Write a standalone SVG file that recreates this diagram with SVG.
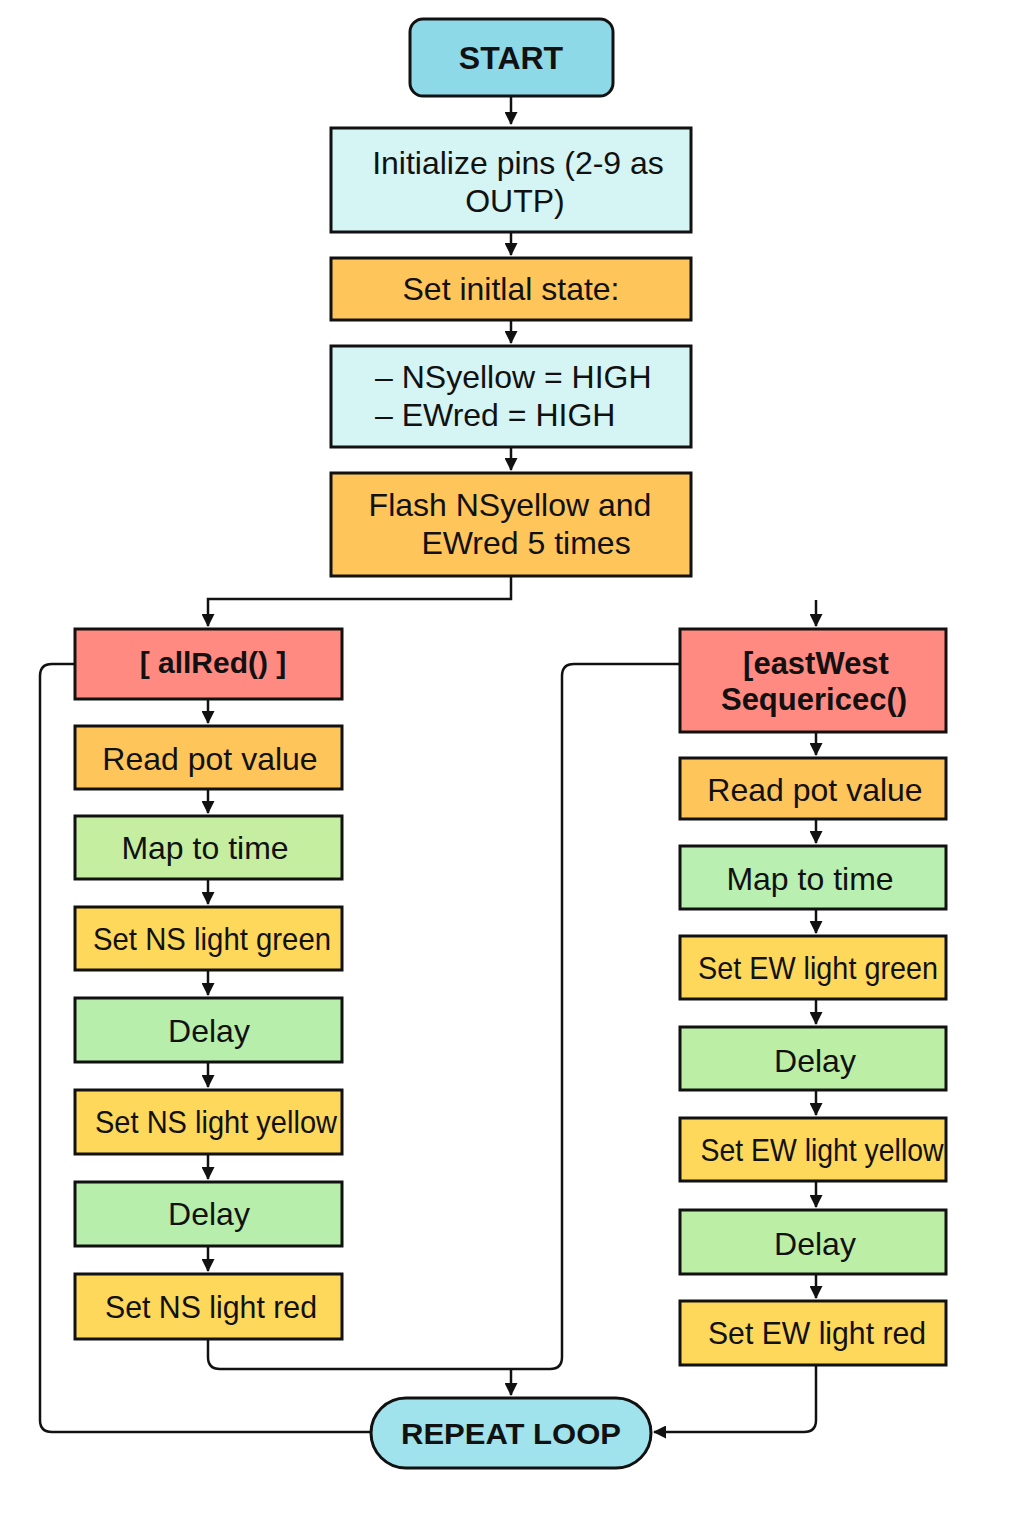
<svg xmlns="http://www.w3.org/2000/svg" width="1024" height="1536" viewBox="0 0 1024 1536">
<defs>
<marker id="ah" markerWidth="13" markerHeight="13" refX="12" refY="6.5" orient="auto" markerUnits="userSpaceOnUse">
<path d="M0,0 L13,6.5 L0,13 Z" fill="#111"/>
</marker>
<style>
.box{stroke:#111;stroke-width:3}
.t{font-family:"Liberation Sans",Arial,sans-serif;font-size:32px;fill:#111;text-anchor:middle}
.b{font-weight:bold}
.c{fill:none;stroke:#111;stroke-width:2.5}
.cyan{fill:#8ED9E8}
.lc{fill:#D5F4F4}
.or{fill:#FDC55A}
.ye{fill:#FDD85A}
.re{fill:#FF8A82}
.gr{fill:#BFEEA4}
</style>
</defs>
<rect width="1024" height="1536" fill="#fff"/>

<g id="connectors">
<path class="c" d="M511,96 V124" marker-end="url(#ah)"/>
<path class="c" d="M511,232 V255" marker-end="url(#ah)"/>
<path class="c" d="M511,320 V343" marker-end="url(#ah)"/>
<path class="c" d="M511,447 V470" marker-end="url(#ah)"/>
<path class="c" d="M511,576 V599 H208 V626" marker-end="url(#ah)"/>
<path class="c" d="M816,600 V626" marker-end="url(#ah)"/>
<path class="c" d="M208,699 V723" marker-end="url(#ah)"/>
<path class="c" d="M208,789 V813" marker-end="url(#ah)"/>
<path class="c" d="M208,879 V904" marker-end="url(#ah)"/>
<path class="c" d="M208,970 V995" marker-end="url(#ah)"/>
<path class="c" d="M208,1062 V1087" marker-end="url(#ah)"/>
<path class="c" d="M208,1154 V1179" marker-end="url(#ah)"/>
<path class="c" d="M208,1246 V1271" marker-end="url(#ah)"/>
<path class="c" d="M816,732 V755" marker-end="url(#ah)"/>
<path class="c" d="M816,819 V843" marker-end="url(#ah)"/>
<path class="c" d="M816,909 V933" marker-end="url(#ah)"/>
<path class="c" d="M816,999 V1024" marker-end="url(#ah)"/>
<path class="c" d="M816,1090 V1115" marker-end="url(#ah)"/>
<path class="c" d="M816,1181 V1207" marker-end="url(#ah)"/>
<path class="c" d="M816,1274 V1298" marker-end="url(#ah)"/>
<path class="c" d="M75,664 H52 Q40,664 40,676 V1420 Q40,1432 52,1432 H371"/>
<path class="c" d="M208,1339 V1357 Q208,1369 220,1369 H550 Q562,1369 562,1357 V676 Q562,664 574,664 H680"/>
<path class="c" d="M511,1369 V1395" marker-end="url(#ah)"/>
<path class="c" d="M816,1365 V1420 Q816,1432 804,1432 H654" marker-end="url(#ah)"/>
</g>

<g id="start">
<rect class="box cyan" x="410" y="19" width="203" height="77" rx="13"/>
<text class="t b" x="511" y="69">START</text>
</g>
<g id="init">
<rect class="box lc" x="331" y="128" width="360" height="104"/>
<text class="t" x="518" y="174">Initialize pins (2-9 as</text>
<text class="t" x="515" y="212">OUTP)</text>
</g>
<g id="initial-state">
<rect class="box or" x="331" y="258" width="360" height="62"/>
<text class="t" x="511" y="300">Set initlal state:</text>
</g>
<g id="state-values">
<rect class="box lc" x="331" y="346" width="360" height="101"/>
<text class="t" x="375" y="388" style="text-anchor:start">– NSyellow = HIGH</text>
<text class="t" x="375" y="426" style="text-anchor:start">– EWred = HIGH</text>
</g>
<g id="flash">
<rect class="box or" x="331" y="473" width="360" height="103"/>
<text class="t" x="510" y="516">Flash NSyellow and</text>
<text class="t" x="526" y="554">EWred 5 times</text>
</g>

<g id="allred">
<rect class="box re" x="75" y="629" width="267" height="70"/>
<text class="t b" x="213" y="673" style="font-size:30px">[ allRed() ]</text>
</g>
<g id="ns-read">
<rect class="box or" x="75" y="726" width="267" height="63"/>
<text class="t" x="210" y="770">Read pot value</text>
</g>
<g id="ns-map">
<rect class="box gr" x="75" y="816" width="267" height="63" style="fill:#C6EEA0"/>
<text class="t" x="205" y="859">Map to time</text>
</g>
<g id="ns-green">
<rect class="box ye" x="75" y="907" width="267" height="63"/>
<text class="t" x="212" y="950" textLength="238" lengthAdjust="spacingAndGlyphs">Set NS light green</text>
</g>
<g id="ns-delay1">
<rect class="box gr" x="75" y="998" width="267" height="64" style="fill:#B7EEAB"/>
<text class="t" x="209" y="1042">Delay</text>
</g>
<g id="ns-yellow">
<rect class="box ye" x="75" y="1090" width="267" height="64"/>
<text class="t" x="216" y="1133" textLength="242" lengthAdjust="spacingAndGlyphs">Set NS light yellow</text>
</g>
<g id="ns-delay2">
<rect class="box gr" x="75" y="1182" width="267" height="64" style="fill:#B7EEAB"/>
<text class="t" x="209" y="1225">Delay</text>
</g>
<g id="ns-red">
<rect class="box ye" x="75" y="1274" width="267" height="65"/>
<text class="t" x="211" y="1318" textLength="212" lengthAdjust="spacingAndGlyphs">Set NS light red</text>
</g>

<g id="eastwest">
<rect class="box re" x="680" y="629" width="266" height="103"/>
<text class="t b" x="816" y="674" style="font-size:31px">[eastWest</text>
<text class="t b" x="814" y="710" style="font-size:31px">Sequericec()</text>
</g>
<g id="ew-read">
<rect class="box or" x="680" y="758" width="266" height="61"/>
<text class="t" x="815" y="801">Read pot value</text>
</g>
<g id="ew-map">
<rect class="box gr" x="680" y="846" width="266" height="63" style="fill:#B9EFB0"/>
<text class="t" x="810" y="890">Map to time</text>
</g>
<g id="ew-green">
<rect class="box ye" x="680" y="936" width="266" height="63"/>
<text class="t" x="818" y="979" textLength="240" lengthAdjust="spacingAndGlyphs">Set EW light green</text>
</g>
<g id="ew-delay1">
<rect class="box gr" x="680" y="1027" width="266" height="63" style="fill:#BDEEA6"/>
<text class="t" x="815" y="1072">Delay</text>
</g>
<g id="ew-yellow">
<rect class="box ye" x="680" y="1118" width="266" height="63"/>
<text class="t" x="822" y="1161" textLength="243" lengthAdjust="spacingAndGlyphs">Set EW light yellow</text>
</g>
<g id="ew-delay2">
<rect class="box gr" x="680" y="1210" width="266" height="64" style="fill:#BDEEA6"/>
<text class="t" x="815" y="1255">Delay</text>
</g>
<g id="ew-red">
<rect class="box ye" x="680" y="1301" width="266" height="64"/>
<text class="t" x="817" y="1344" textLength="218" lengthAdjust="spacingAndGlyphs">Set EW light red</text>
</g>

<g id="repeat">
<rect class="box" x="371" y="1398" width="280" height="70" rx="35" fill="#A0E3EC"/>
<text class="t b" x="511" y="1444" style="font-size:30px" textLength="220" lengthAdjust="spacingAndGlyphs">REPEAT LOOP</text>
</g>
</svg>
